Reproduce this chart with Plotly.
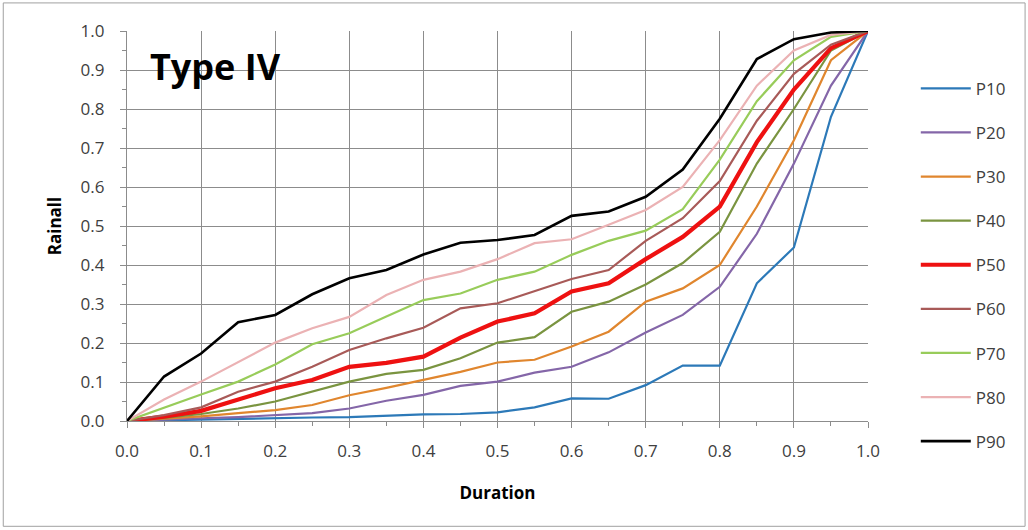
import plotly.graph_objects as go

duration = [0.0, 0.05, 0.1, 0.15, 0.2, 0.25, 0.3, 0.35, 0.4, 0.45, 0.5,
            0.55, 0.6, 0.65, 0.7, 0.75, 0.8, 0.85, 0.9, 0.95, 1.0]

p10 = [0.0, 0.002, 0.004, 0.005, 0.007, 0.009, 0.010, 0.013, 0.017, 0.018, 0.022,
       0.035, 0.058, 0.057, 0.092, 0.142, 0.142, 0.353, 0.445, 0.78, 1.0]
p20 = [0.0, 0.004, 0.007, 0.010, 0.015, 0.020, 0.032, 0.052, 0.067, 0.090, 0.101,
       0.124, 0.139, 0.176, 0.227, 0.272, 0.344, 0.48, 0.66, 0.86, 1.0]
p30 = [0.0, 0.006, 0.012, 0.020, 0.028, 0.041, 0.066, 0.085, 0.105, 0.126, 0.150,
       0.157, 0.191, 0.229, 0.306, 0.340, 0.400, 0.55, 0.72, 0.925, 1.0]
p40 = [0.0, 0.008, 0.018, 0.032, 0.050, 0.075, 0.101, 0.121, 0.131, 0.161, 0.201,
       0.215, 0.280, 0.306, 0.350, 0.405, 0.485, 0.66, 0.80, 0.95, 1.0]
p50 = [0.0, 0.011, 0.026, 0.054, 0.084, 0.105, 0.139, 0.149, 0.165, 0.214, 0.255,
       0.276, 0.332, 0.353, 0.415, 0.472, 0.55, 0.715, 0.85, 0.956, 1.0]
p60 = [0.0, 0.015, 0.035, 0.075, 0.101, 0.139, 0.182, 0.212, 0.239, 0.289, 0.302,
       0.332, 0.364, 0.387, 0.462, 0.52, 0.615, 0.77, 0.89, 0.965, 1.0]
p70 = [0.0, 0.035, 0.068, 0.101, 0.145, 0.197, 0.225, 0.268, 0.310, 0.327, 0.362,
       0.383, 0.426, 0.462, 0.488, 0.543, 0.67, 0.82, 0.925, 0.985, 1.0]
p80 = [0.0, 0.055, 0.101, 0.150, 0.201, 0.238, 0.267, 0.323, 0.362, 0.383, 0.415,
       0.456, 0.466, 0.503, 0.541, 0.60, 0.72, 0.86, 0.95, 0.99, 1.0]
p90 = [0.0, 0.114, 0.173, 0.253, 0.272, 0.325, 0.366, 0.387, 0.427, 0.457, 0.464,
       0.477, 0.526, 0.537, 0.575, 0.645, 0.775, 0.928, 0.979, 0.996, 1.0]

names = ["P10", "P20", "P30", "P40", "P50", "P60", "P70", "P80", "P90"]
series = [p10, p20, p30, p40, p50, p60, p70, p80, p90]
colors = ["#2C79B8", "#8466A8", "#E0862E", "#7A9440", "#EE1111",
          "#A85A58", "#98CC5A", "#EBB2B4", "#000000"]
widths = [2.2, 2.2, 2.2, 2.2, 4.2, 2.2, 2.2, 2.2, 2.6]

fig = go.Figure()
for name, ys, c, w in zip(names, series, colors, widths):
    fig.add_trace(go.Scatter(
        x=duration, y=ys, mode="lines", name=name, legendgroup=name,
        line=dict(color=c, width=w)))

tickfont = dict(family="Open Sans", size=17, color="#404040")
axis_common = dict(
    range=[0, 1], dtick=0.1, tick0=0, tickformat=".1f",
    showgrid=True, gridcolor="#8C8C8C", gridwidth=1.2,
    showline=True, linecolor="#8C8C8C", linewidth=1.2,
    ticks="outside", ticklen=6, tickcolor="#8C8C8C",
    minor=dict(ticks="outside", dtick=0.05, ticklen=4, tickcolor="#8C8C8C", showgrid=False),
    tickfont=tickfont, zeroline=False, mirror=False,
)

fig.update_xaxes(**axis_common, ticklabelstandoff=8,
                 title=dict(text="<b>Duration</b>", font=dict(family="Open Sans", size=17, color="#000"),
                            standoff=26))
fig.update_yaxes(**axis_common, ticklabelstandoff=12,
                 title=dict(text="<b>Rainall</b>", font=dict(family="Open Sans", size=17, color="#000"),
                            standoff=14))

fig.add_annotation(text="<b>Type IV</b>", xref="paper", yref="paper",
                   x=0.028, y=0.908, xanchor="left", yanchor="middle", showarrow=False,
                   font=dict(family="Open Sans", size=36, color="#000"))

# outer chart border
fig.add_shape(type="rect", xref="paper", yref="paper",
              x0=-0.167, x1=1.212, y0=-0.27, y1=1.072,
              line=dict(color="#A0A0A0", width=1), layer="below")

fig.update_layout(
    width=1028, height=530,
    margin=dict(l=127, r=160, t=31, b=109),
    paper_bgcolor="white", plot_bgcolor="white",
    showlegend=True,
    legend=dict(x=1.0645, y=0.898, xanchor="left", yanchor="top",
                font=dict(family="Open Sans", size=17, color="#404040"),
                tracegroupgap=19, itemwidth=50, maxheight=520,
                bgcolor="rgba(0,0,0,0)"),
)

fig.write_html("out.html", config=dict(displayModeBar=False),
               post_script="document.body.style.margin='0px';document.body.style.overflow='hidden';")
